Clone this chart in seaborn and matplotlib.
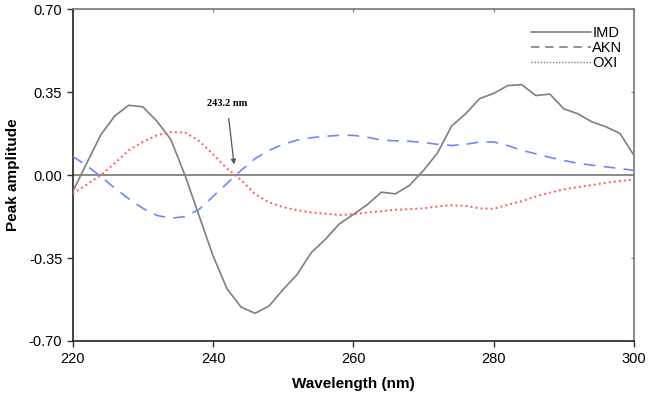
import numpy as np
import pandas as pd
import matplotlib
matplotlib.use("Agg")
import matplotlib.pyplot as plt
from matplotlib.lines import Line2D
import seaborn as sns

wavelength = list(range(220, 301, 2))
imd = [-0.07, 0.05, 0.17, 0.25, 0.295, 0.288, 0.228, 0.15, 0.0, -0.17,
       -0.34, -0.48, -0.557, -0.583, -0.552, -0.482, -0.419, -0.327, -0.271, -0.206,
       -0.166, -0.124, -0.072, -0.079, -0.043, 0.02, 0.094, 0.207, 0.259, 0.323,
       0.345, 0.378, 0.382, 0.336, 0.342, 0.28, 0.259, 0.225, 0.204, 0.176,
       0.083]
akn = [0.08, 0.04, -0.005, -0.055, -0.10, -0.14, -0.17, -0.182, -0.175, -0.145,
       -0.09, -0.035, 0.02, 0.07, 0.105, 0.13, 0.148, 0.158, 0.164, 0.168,
       0.168, 0.16, 0.148, 0.145, 0.143, 0.138, 0.13, 0.125, 0.13, 0.14,
       0.14, 0.125, 0.105, 0.09, 0.075, 0.062, 0.05, 0.042, 0.035, 0.028,
       0.02]
oxi = [-0.078, -0.04, 0.0, 0.05, 0.105, 0.14, 0.168, 0.182, 0.18, 0.145,
       0.088, 0.028, -0.02, -0.08, -0.115, -0.135, -0.148, -0.157, -0.163, -0.168,
       -0.165, -0.158, -0.152, -0.146, -0.144, -0.14, -0.132, -0.127, -0.13, -0.14,
       -0.142, -0.125, -0.11, -0.09, -0.074, -0.06, -0.05, -0.042, -0.032, -0.025,
       -0.018]
series_names = ["IMD", "AKN", "OXI"]
x_ticks = [220, 240, 260, 280, 300]
y_ticks = [-0.70, -0.35, 0.00, 0.35, 0.70]
annotation_label = "243.2 nm"
annotation_x = 243.2

sns.set_style("white")
plt.rcParams["font.family"] = ["Liberation Sans", "DejaVu Sans"]
plt.rcParams["text.color"] = "black"
plt.rcParams["axes.labelcolor"] = "black"
plt.rcParams["xtick.color"] = "black"
plt.rcParams["ytick.color"] = "black"

fig = plt.figure(figsize=(6.5, 3.96), dpi=100)
ax = fig.add_axes([0.1118, 0.1389, 0.9754 - 0.1118, 0.9765 - 0.1389])

df = pd.DataFrame({"Wavelength": wavelength, "IMD": imd, "AKN": akn, "OXI": oxi})

ax.axhline(0, color="#8a8a8a", lw=1.4, zorder=1)
sns.lineplot(data=df, x="Wavelength", y="IMD", ax=ax, color="#7f7f7f", lw=1.2, zorder=3)
sns.lineplot(data=df, x="Wavelength", y="AKN", ax=ax, color="#6f86ff", lw=1.2, zorder=3)
ax.lines[-1].set_dashes([7, 5])
sns.lineplot(data=df, x="Wavelength", y="OXI", ax=ax, color="#ff5a5a", lw=1.4, zorder=3)
ax.lines[-1].set_dashes([1, 1.6])

ax.set_xlim(220, 300)
ax.set_ylim(-0.70, 0.70)
ax.set_xticks(x_ticks)
ax.set_yticks(y_ticks)
ax.set_yticklabels([f"{v:.2f}" for v in y_ticks])
ax.tick_params(axis="both", labelsize=10.5, direction="out", length=4, width=1,
               color="#333333", labelcolor="black", left=True, bottom=True)
ax.tick_params(axis="x", pad=4)
ax.set_xlabel("Wavelength (nm)", fontsize=11, fontweight="bold", labelpad=8)
ax.set_ylabel("Peak amplitude", fontsize=11, fontweight="bold", labelpad=6)

for side in ["left", "bottom"]:
    ax.spines[side].set_color("#222222")
    ax.spines[side].set_linewidth(1.2)
for side in ["top", "right"]:
    ax.spines[side].set_color("#777777")
    ax.spines[side].set_linewidth(1.2)

top = ax.secondary_xaxis("top")
top.set_xticks(x_ticks)
top.tick_params(direction="in", length=2.5, color="#777777", labeltop=False)
top.spines["top"].set_visible(False)
right = ax.secondary_yaxis("right")
right.set_yticks(y_ticks)
right.tick_params(direction="in", length=2.5, color="#777777", labelright=False)
right.spines["right"].set_visible(False)

ax.annotate(annotation_label, xy=(annotation_x - 0.2, 0.045), xytext=(242.0, 0.302),
            fontsize=7.5, fontweight="bold", family=["Liberation Serif", "DejaVu Serif"],
            ha="center", va="center",
            arrowprops=dict(arrowstyle="-|>", color="#555555", lw=0.9,
                            mutation_scale=7, shrinkA=5, shrinkB=0))

handles = [Line2D([0], [0], color="#7f7f7f", lw=1.2),
           Line2D([0], [0], color="#7f7f7f", lw=1.2, dashes=[5, 3.5]),
           Line2D([0], [0], color="#7f7f7f", lw=1.0, dashes=[1, 1.2])]
leg = ax.legend(handles, series_names, loc="upper right", frameon=False,
                fontsize=10.5, handlelength=4.1, handletextpad=0.1,
                labelspacing=0.05, borderaxespad=0.2, bbox_to_anchor=(0.995, 0.975))

fig.savefig("out.png", dpi=100)
